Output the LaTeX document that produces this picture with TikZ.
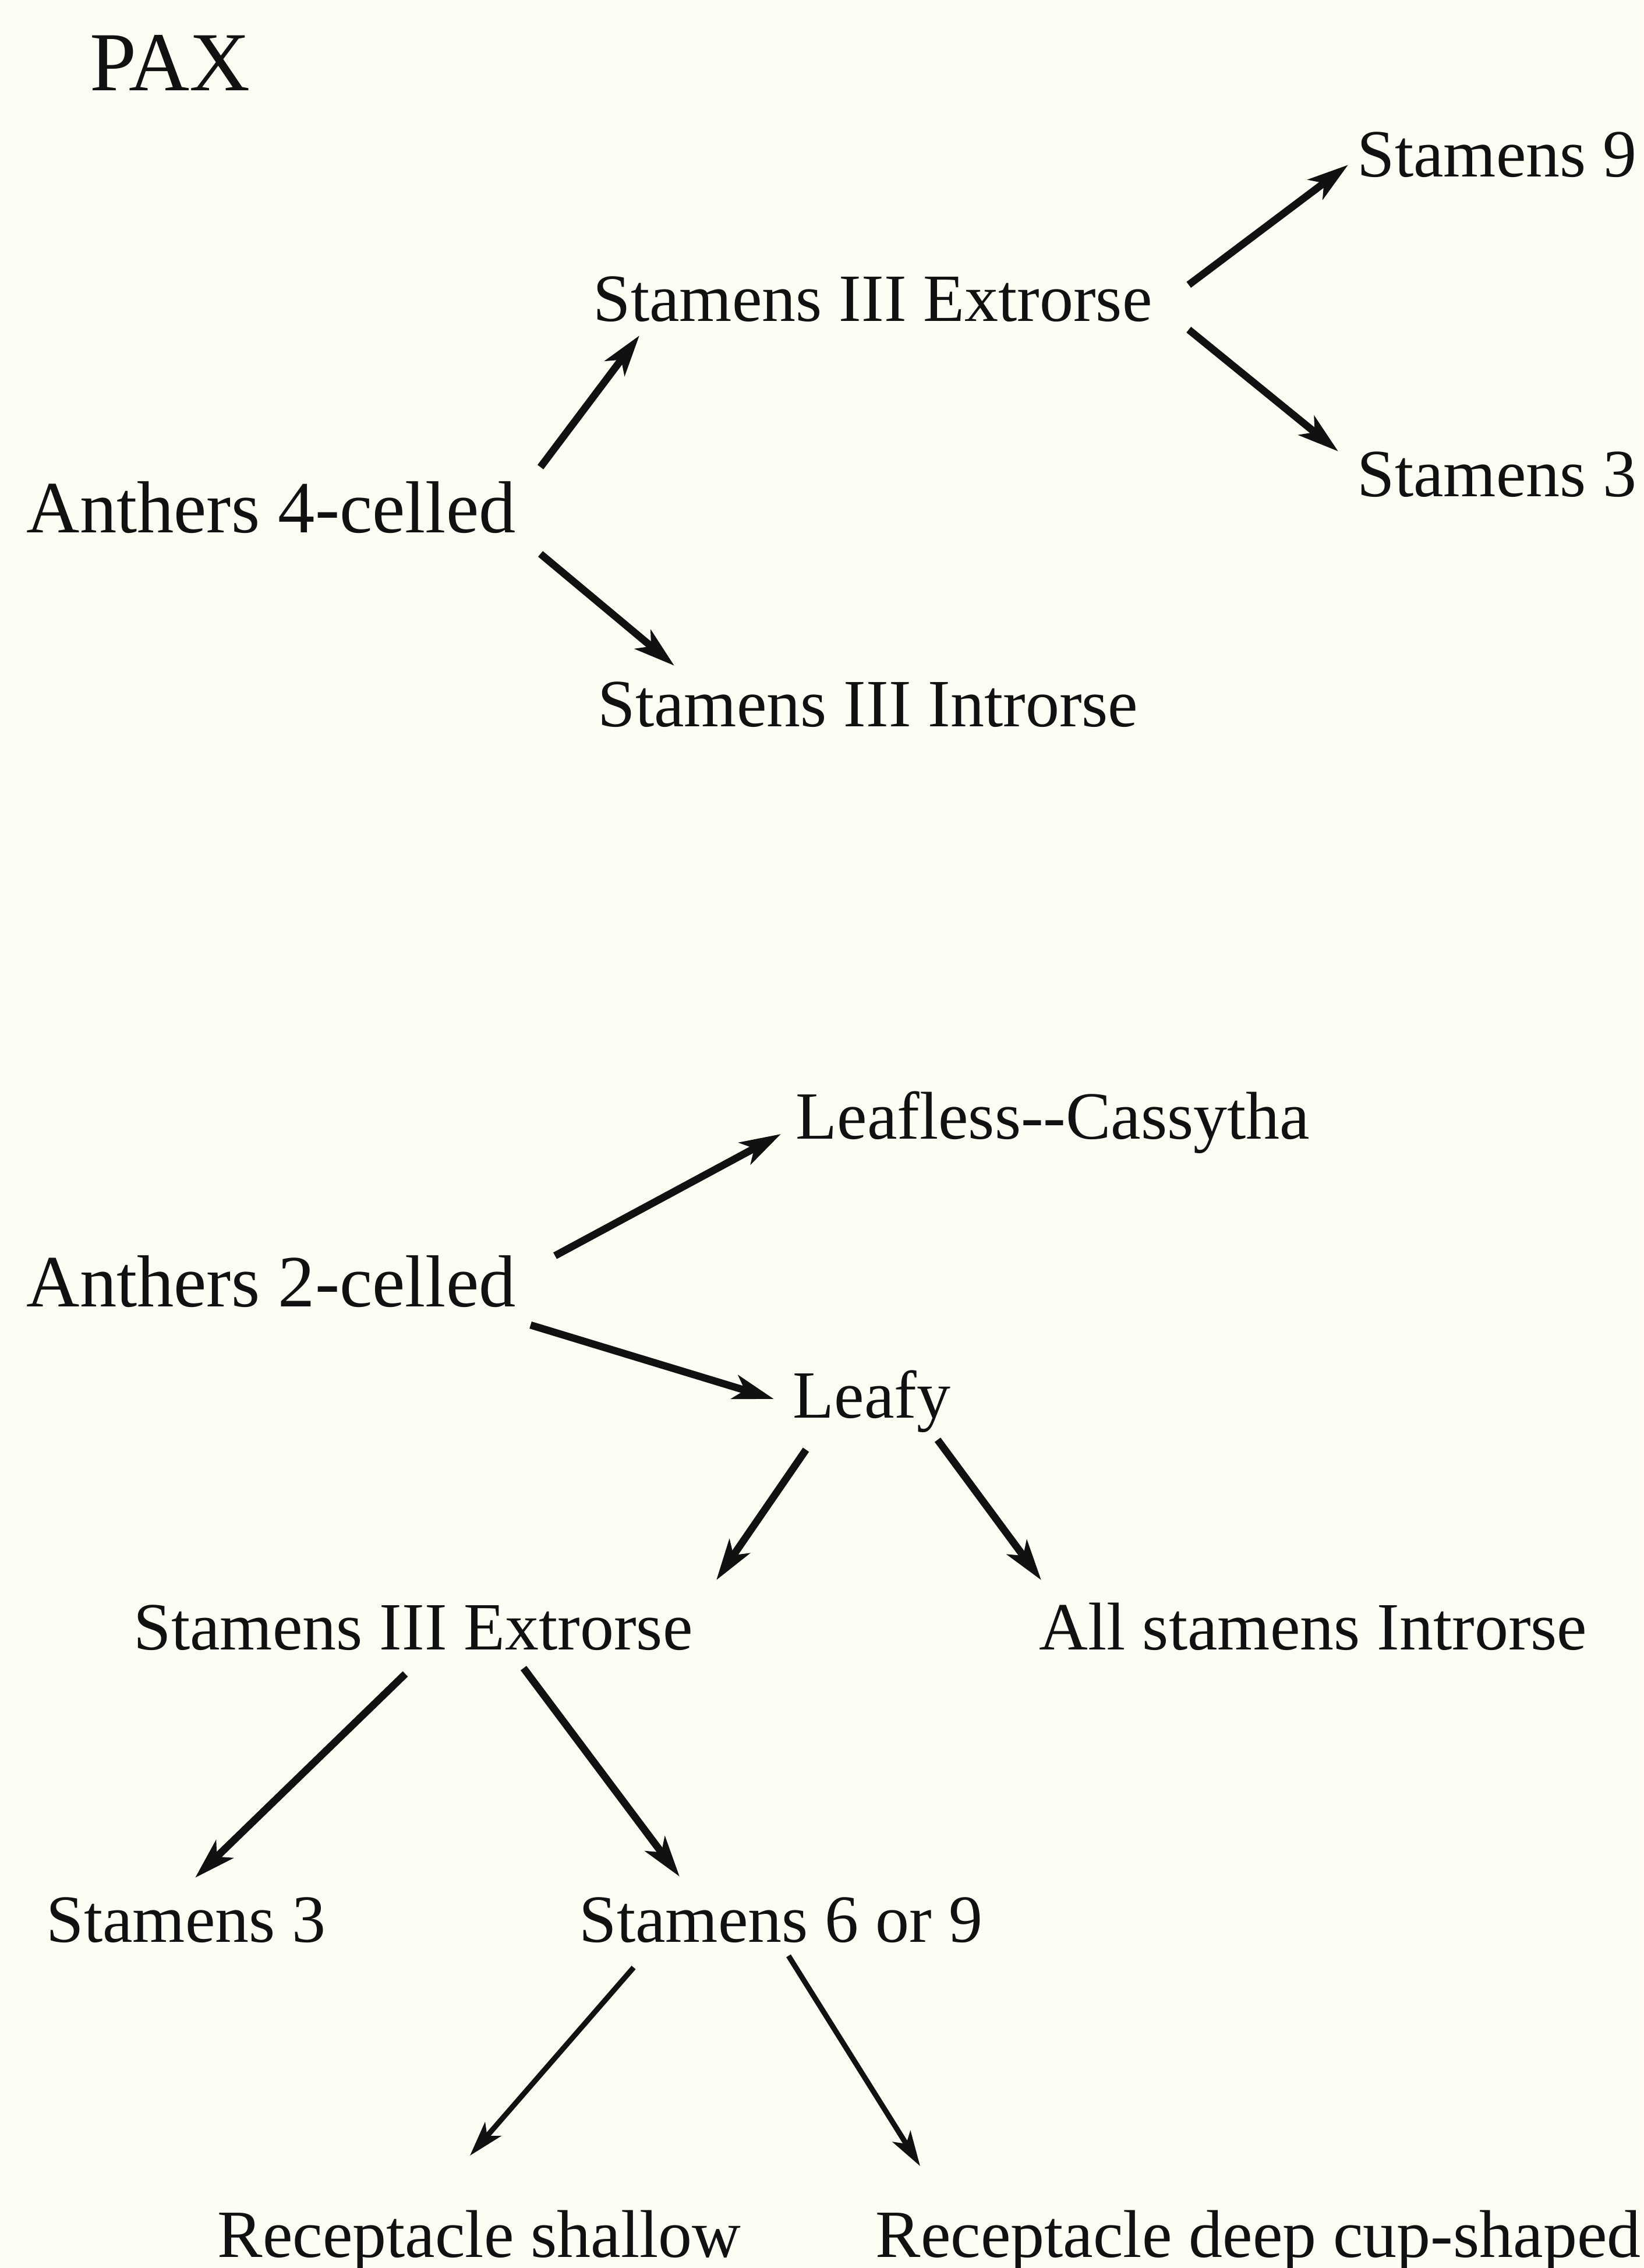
\documentclass[tikz,border=0pt]{standalone}
\usepackage{fontspec}
\setmainfont{Liberation Serif}
\usepackage{xcolor}
\usepackage{tikz}
\usetikzlibrary{positioning,arrows.meta}
\definecolor{paper}{HTML}{FEFDF4}
\definecolor{ink}{HTML}{111111}

\begin{document}
\begin{tikzpicture}[
  label/.style={anchor=base west, inner sep=0pt, text=ink, font=\fontsize{33}{40}\selectfont},
  biglabel/.style={label, font=\fontsize{36}{43}\selectfont},
  arr/.style={-{Stealth[length=7mm,width=4.2mm,inset=1.8mm]}, line width=3.6pt, color=ink},
  thinarr/.style={arr, line width=2.6pt, -{Stealth[length=6mm,width=3.6mm,inset=1.5mm]}}
]
  \fill[paper] (0,0) rectangle (28.22,-38.94);
  \useasboundingbox (0,0) rectangle (28.22,-38.94);

  \node[label, font=\fontsize{41}{48}\selectfont] (pax) at (1.54,-1.56) {PAX};

  % UPPER KEY: anthers 4-celled
  \node[biglabel] (a4) at (0.45,-9.14) {Anthers 4-celled};
  \node[label] (extA) at (10.18,-5.51) {Stamens III Extrorse};
  \node[label] (intr) at (10.26,-12.47) {Stamens III Introrse};
  \node[label] (s9) at (23.30,-3.03) {Stamens 9};
  \node[label] (s3A) at (23.30,-8.52) {Stamens 3};

  \draw[arr] ([shift={(0.42,1.12)}]a4.base east) -- ([shift={(0.80,-0.25)}]extA.base west);
  \draw[arr] ([shift={(0.42,-0.37)}]a4.base east) -- ([shift={(1.32,1.04)}]intr.base west);
  \draw[arr] ([shift={(0.62,0.62)}]extA.base east) -- ([shift={(-0.15,0.20)}]s9.base west);
  \draw[arr] ([shift={(0.62,-0.15)}]extA.base east) -- ([shift={(-0.32,0.77)}]s3A.base west);

  % LOWER KEY: anthers 2-celled
  \node[biglabel] (a2) at (0.45,-22.43) {Anthers 2-celled};
  \node[label] (leafless) at (13.66,-19.55) {Leafless-{}-Cassytha};
  \node[label] (leafy) at (13.61,-24.34) {Leafy};
  \node[label] (extB) at (2.29,-28.32) {Stamens III Extrorse};
  \node[label] (allst) at (17.84,-28.32) {All stamens Introrse};
  \node[label] (s3B) at (0.79,-33.34) {Stamens 3};
  \node[label] (s69) at (9.94,-33.34) {Stamens 6 or 9};
  \node[label] (shallow) at (3.73,-38.75) {Receptacle shallow};
  \node[label] (deep) at (15.03,-38.75) {Receptacle deep cup-shaped};

  \draw[arr] ([shift={(0.67,0.87)}]a2.base east) -- ([shift={(-0.25,0.08)}]leafless.base west);
  \draw[arr] ([shift={(0.25,-0.32)}]a2.base east) -- ([shift={(-0.32,0.32)}]leafy.base west);
  \draw[arr] ([shift={(0.23,-0.55)}]leafy.base west) -- ([shift={(10.01,1.19)}]extB.base west);
  \draw[arr] ([shift={(2.49,-0.38)}]leafy.base west) -- ([shift={(0.04,1.19)}]allst.base west);
  \draw[arr] ([shift={(4.67,-0.42)}]extB.base west) -- ([shift={(2.56,1.10)}]s3B.base west);
  \draw[arr] ([shift={(6.70,-0.32)}]extB.base west) -- ([shift={(1.73,1.12)}]s69.base west);
  \draw[thinarr] ([shift={(0.94,-0.44)}]s69.base west) -- ([shift={(4.34,1.74)}]shallow.base west);
  \draw[thinarr] ([shift={(3.60,-0.24)}]s69.base west) -- ([shift={(0.77,1.56)}]deep.base west);

\end{tikzpicture}
\end{document}
